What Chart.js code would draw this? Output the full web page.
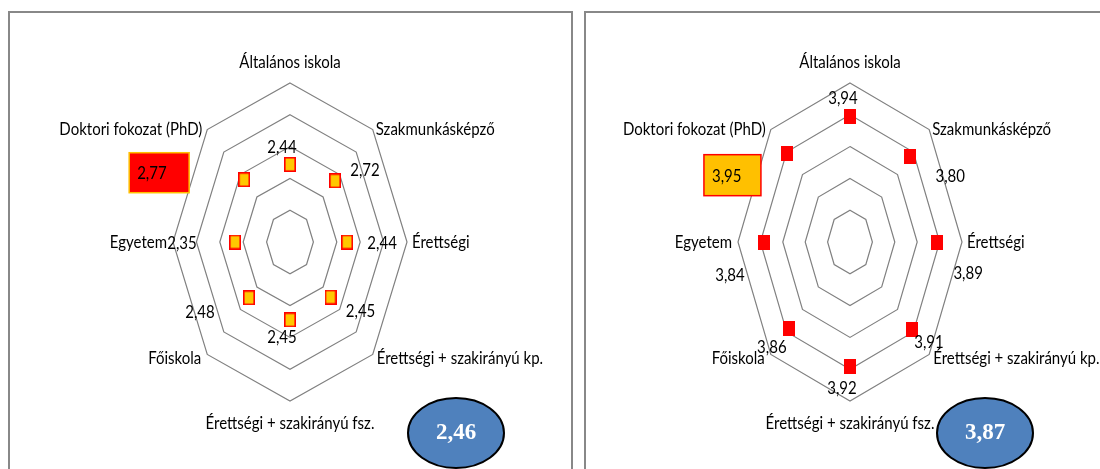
<!DOCTYPE html>
<html>
<head>
<meta charset="utf-8">
<script src="https://cdn.jsdelivr.net/npm/chart.js@4.4.1/dist/chart.umd.min.js"></script>
<style>
html,body{margin:0;padding:0;background:#fff;width:1100px;height:469px;overflow:hidden;}
.box{position:absolute;border:2px solid #888;box-sizing:border-box;}
#boxL{left:8px;top:11px;width:565px;height:480px;}
#boxR{left:584px;top:11px;width:540px;height:480px;}
.wrap{position:absolute;}
#wrapL{left:10px;top:14px;width:560px;height:455px;}
#wrapR{left:586px;top:14px;width:514px;height:455px;}
</style>
</head>
<body>
<div class="box" id="boxL"></div>
<div class="box" id="boxR"></div>
<div class="wrap" id="wrapL"><canvas id="chartL"></canvas></div>
<div class="wrap" id="wrapR"><canvas id="chartR"></canvas></div>
<script>
// ---- data ----
const categories = [
  'Általános iskola',
  'Szakmunkásképző',
  'Érettségi',
  'Érettségi + szakirányú kp.',
  'Érettségi + szakirányú fsz.',
  'Főiskola',
  'Egyetem',
  'Doktori fokozat (PhD)'
];
const valuesLeft  = [2.44, 2.72, 2.44, 2.45, 2.45, 2.48, 2.35, 2.77];
const valuesRight = [3.94, 3.80, 3.89, 3.91, 3.92, 3.86, 3.84, 3.95];
const averageLeft  = 2.46;
const averageRight = 3.87;
const scaleMin = 0;
const scaleMax = 5;
const scaleStep = 1;

// ---- helpers / styles ----
const fmt = v => v.toFixed(2).replace('.', ',');
const LABEL_FONT = '15px Lato, "Liberation Sans", sans-serif';
const TEXT_STRETCH = 1.15;

function tallText(ctx, text, x, y) {
  ctx.save();
  ctx.translate(x, y);
  ctx.scale(1, TEXT_STRETCH);
  ctx.fillText(text, 0, 0);
  ctx.restore();
}

// elliptical radial scale (plot area stretched vertically as in the original)
class EllipticRadialScale extends Chart.RadialLinearScale {
  getPointPosition(index, distance, additionalAngle = 0) {
    const p = super.getPointPosition(index, distance, additionalAngle);
    const k = this.options.xRatio || 1;
    return { x: this.xCenter + (p.x - this.xCenter) * k, y: p.y, angle: p.angle };
  }
}
EllipticRadialScale.id = 'ellipticRadial';
Chart.register(EllipticRadialScale);

function markerImage(fill, stroke) {
  const c = document.createElement('canvas');
  c.width = 12; c.height = 15;
  const g = c.getContext('2d');
  g.fillStyle = fill;
  g.fillRect(0, 0, 12, 15);
  if (stroke) {
    g.strokeStyle = stroke;
    g.lineWidth = 1.6;
    g.strokeRect(0.8, 0.8, 10.4, 13.4);
  }
  return c;
}

// category label placement relative to the outer polygon vertex: [dx, dy, align]
const catPlacement = [
  [0, -21, 'center'], [3, 0, 'left'], [5, 0, 'left'], [4, 4, 'left'],
  [0, 22, 'center'], [-6, 4, 'right'], [-6, 0, 'right'], [-5, 0, 'right']
];

const overlayPlugin = {
  id: 'overlay',
  afterDatasetsDraw(chart, args, opts) {
    const ctx = chart.ctx;
    const s = chart.scales.r;
    ctx.save();
    ctx.fillStyle = '#000';
    ctx.font = LABEL_FONT;
    ctx.textBaseline = 'middle';
    // category labels
    categories.forEach((c, i) => {
      const p = s.getPointPosition(i, s.drawingArea);
      const [dx, dy, al] = catPlacement[i];
      ctx.textAlign = al;
      tallText(ctx, c, p.x + dx, p.y + dy);
    });
    // value labels
    const meta = chart.getDatasetMeta(0);
    const vals = chart.data.datasets[0].data;
    meta.data.forEach((pt, i) => {
      const [dx, dy] = opts.valueOffsets[i];
      const x = pt.x + dx, y = pt.y + dy;
      if (opts.boxIndex === i) {
        const w = opts.boxSize[0], h = opts.boxSize[1];
        ctx.fillStyle = opts.boxFill;
        ctx.fillRect(x - w / 2, y - h / 2, w, h);
        ctx.strokeStyle = opts.boxStroke;
        ctx.lineWidth = 1.5;
        ctx.strokeRect(x - w / 2, y - h / 2, w, h);
        ctx.fillStyle = '#000';
        ctx.textAlign = 'left';
        tallText(ctx, fmt(vals[i]), x - w / 2 + 8, y + 1);
      } else {
        ctx.textAlign = 'center';
        tallText(ctx, fmt(vals[i]), x, y);
      }
    });
    // average badge
    const [ex, ey] = opts.badgeCenter;
    ctx.beginPath();
    ctx.ellipse(ex, ey, 48, 35, 0, 0, Math.PI * 2);
    ctx.fillStyle = '#4F81BD';
    ctx.fill();
    ctx.lineWidth = 2;
    ctx.strokeStyle = '#000';
    ctx.stroke();
    ctx.fillStyle = '#fff';
    ctx.font = 'bold 23px "Liberation Serif", "Times New Roman", serif';
    ctx.textAlign = 'center';
    ctx.fillText(fmt(opts.average), ex, ey);
    ctx.restore();
  }
};

function makeChart(id, values, marker, xRatio, padding, overlay) {
  return new Chart(document.getElementById(id), {
    type: 'radar',
    data: {
      labels: categories,
      datasets: [{
        data: values,
        showLine: false,
        fill: false,
        borderWidth: 0,
        backgroundColor: 'rgba(0,0,0,0)',
        pointStyle: marker,
        pointRadius: 7,
        pointHoverRadius: 7
      }]
    },
    options: {
      responsive: true,
      maintainAspectRatio: false,
      animation: false,
      events: [],
      layout: { padding },
      plugins: { legend: { display: false }, tooltip: { enabled: false }, title: { display: false }, overlay },
      scales: {
        r: {
          type: 'ellipticRadial',
          xRatio,
          min: scaleMin,
          max: scaleMax,
          ticks: { display: false, stepSize: scaleStep },
          pointLabels: { display: false },
          angleLines: { display: false },
          grid: { color: '#808080', lineWidth: 1.2 }
        }
      }
    },
    plugins: [overlayPlugin]
  });
}

makeChart('chartL', valuesLeft, markerImage('#FFC800', '#FF0000'), 117 / 159,
  { left: 121, right: 121, top: 69, bottom: 68 },
  {
    valueOffsets: [[-8, -17], [30, -10], [35, 1], [30, 14], [-8, 18], [-49, 15], [-53, 1], [-85, -7]],
    boxIndex: 7, boxSize: [60, 40], boxFill: '#FF0000', boxStroke: '#FFC000',
    badgeCenter: [446, 419], average: averageLeft
  });

makeChart('chartR', valuesRight, markerImage('#FF0000', null), 112 / 159,
  { left: 105, right: 91, top: 69, bottom: 68 },
  {
    valueOffsets: [[-7, -18], [40, 20], [31, 31], [17, 13], [-8, 22], [-17, 19], [-34, 33], [-55, 22]],
    boxIndex: 7, boxSize: [57, 41], boxFill: '#FFC000', boxStroke: '#FF0000',
    badgeCenter: [399, 419], average: averageRight
  });
</script>
</body>
</html>
